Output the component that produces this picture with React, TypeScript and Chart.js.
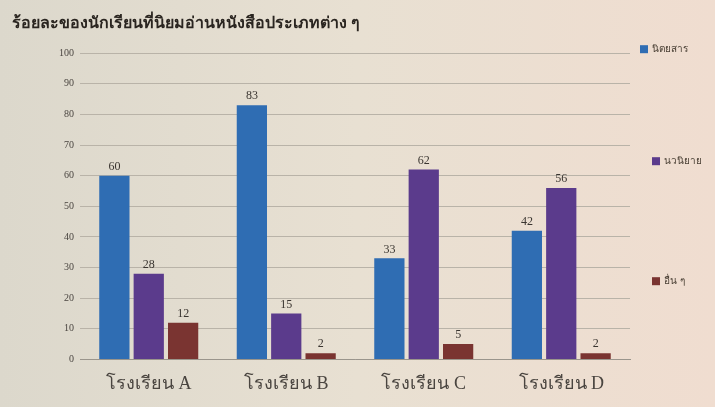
import React, { useEffect, useRef } from "react";
import { Chart, registerables } from "chart.js";

Chart.register(...registerables);

const title = "ร้อยละของนักเรียนที่นิยมอ่านหนังสือประเภทต่าง ๆ";
const categories = ["โรงเรียน A", "โรงเรียน B", "โรงเรียน C", "โรงเรียน D"];
const seriesNames = ["นิตยสาร", "นวนิยาย", "อื่น ๆ"];
const magazine = [60, 83, 33, 42];
const novel = [28, 15, 62, 56];
const other = [12, 2, 5, 2];
const colors = ["#2f6db3", "#5b3b8c", "#7a3431"];

const bgPlugin = {
  id: "bg",
  beforeDraw(chart: any) {
    const { ctx, width, height } = chart;
    ctx.save();
    const g = ctx.createLinearGradient(0, 0, width, 0);
    g.addColorStop(0, "#dcd8cc");
    g.addColorStop(0.5, "#e8e0d2");
    g.addColorStop(1, "#f0ddd0");
    ctx.fillStyle = g;
    ctx.fillRect(0, 0, width, height);
    ctx.restore();
  },
};

const labelPlugin = {
  id: "vals",
  afterDatasetsDraw(chart: any) {
    const { ctx } = chart;
    ctx.save();
    ctx.font = "12px 'Liberation Serif', serif";
    ctx.fillStyle = "#3a3530";
    ctx.textAlign = "center";
    ctx.textBaseline = "bottom";
    chart.data.datasets.forEach((ds: any, i: number) => {
      const meta = chart.getDatasetMeta(i);
      meta.data.forEach((bar: any, j: number) => {
        ctx.fillText(String(ds.data[j]), bar.x, bar.y - 3);
      });
    });
    ctx.restore();
  },
};

const legendOffsets = [-4, 108, 228];
const legendPlugin = {
  id: "sideLegend",
  afterDraw(chart: any) {
    const { ctx, chartArea } = chart;
    ctx.save();
    ctx.font = "10px 'Noto Sans', sans-serif";
    ctx.textBaseline = "middle";
    chart.data.datasets.forEach((ds: any, i: number) => {
      const x = chartArea.right + 10 + (i === 0 ? 0 : 12);
      const y = chartArea.top + legendOffsets[i];
      ctx.fillStyle = ds.backgroundColor;
      ctx.fillRect(x, y - 4, 8, 8);
      ctx.fillStyle = "#4a4035";
      ctx.fillText(ds.label, x + 12, y);
    });
    ctx.restore();
  },
};

export default function App() {
  const ref = useRef<HTMLCanvasElement>(null);
  useEffect(() => {
    document.body.style.margin = "0";
    const series = [magazine, novel, other];
    const chart = new Chart(ref.current!, {
      type: "bar",
      data: {
        labels: categories,
        datasets: series.map((d, i) => ({
          label: seriesNames[i],
          data: d,
          backgroundColor: colors[i],
          categoryPercentage: 0.75,
          barPercentage: 0.88,
        })),
      },
      options: {
        animation: false,
        responsive: false,
        layout: { padding: { left: 12, right: 85, top: 8, bottom: 6 } },
        plugins: {
          title: {
            display: true,
            text: title,
            align: "start",
            color: "#2a2520",
            font: { size: 16, weight: "bold", family: "'Noto Sans', sans-serif" },
            padding: { top: 6, bottom: 20 },
          },
          legend: { display: false },
          tooltip: { enabled: false },
        },
        scales: {
          x: {
            grid: { display: false },
            border: { color: "#9a958c" },
            ticks: {
              color: "#4a4540",
              font: { size: 18, family: "'Liberation Serif', serif" },
              padding: 6,
            },
          },
          y: {
            min: 0,
            max: 100,
            afterFit: (scale: any) => {
              scale.width = 68;
            },
            ticks: {
              stepSize: 10,
              color: "#4a4540",
              font: { size: 10, family: "'Liberation Serif', serif" },
              padding: 6,
            },
            grid: { color: "#b9b3a8", drawTicks: false },
            border: { display: false },
          },
        },
      },
      plugins: [bgPlugin, labelPlugin, legendPlugin],
    });
    return () => chart.destroy();
  }, []);
  return <canvas ref={ref} width={715} height={407} style={{ display: "block" }} />;
}
